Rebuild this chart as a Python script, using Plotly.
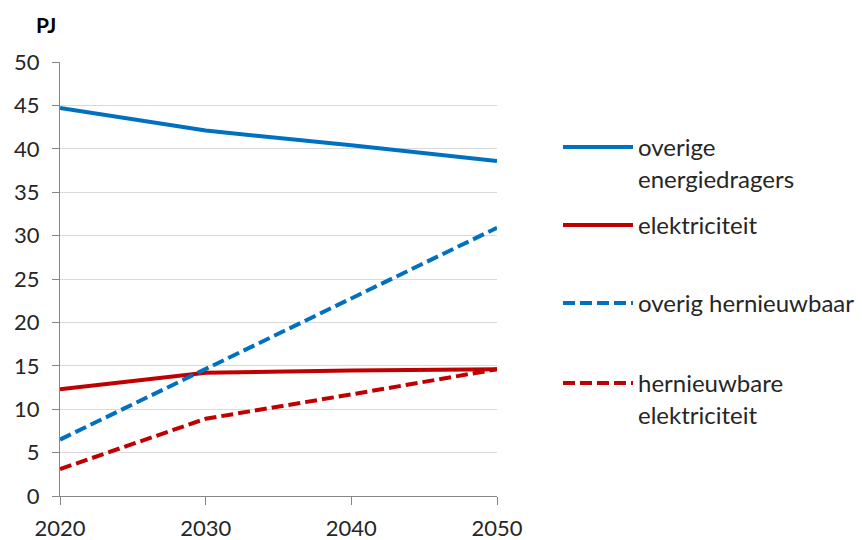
import plotly.graph_objects as go

years = [2020, 2030, 2040, 2050]
overige_energiedragers = [44.7, 42.1, 40.4, 38.6]
elektriciteit = [12.3, 14.2, 14.45, 14.6]
overig_hernieuwbaar = [6.5, 14.6, 22.7, 30.9]
hernieuwbare_elektriciteit = [3.1, 8.9, 11.7, 14.6]

names = ["overige<br>energiedragers", "elektriciteit", "overig hernieuwbaar", "hernieuwbare<br>elektriciteit"]
series = [overige_energiedragers, elektriciteit, overig_hernieuwbaar, hernieuwbare_elektriciteit]
colors = ["#0070C0", "#C00000", "#0070C0", "#C00000"]
dashes = ["solid", "solid", "12px,5px", "12px,5px"]
legend_ids = ["legend", "legend2", "legend3", "legend4"]
legend_y = [147, 225, 303, 383]

FONT = "Lato"
TXT = "#262626"

fig = go.Figure()
for name, vals, col, dash, lid in zip(names, series, colors, dashes, legend_ids):
    fig.add_trace(go.Scatter(x=years, y=vals, mode="lines", name=name,
                             line=dict(color=col, width=4, dash=dash),
                             legend=lid, hoverinfo="skip"))

W, H = 862, 540
L, R, T, B = 60, 365, 62, 44
pw = W - L - R
ph = H - T - B
legs = {}
for lid, yc in zip(legend_ids, legend_y):
    legs[lid] = dict(x=(558 - L) / pw, xanchor="left",
                     y=(H - B - (yc - 22)) / ph, yanchor="top",
                     valign="top", bgcolor="rgba(0,0,0,0)",
                     font=dict(family=FONT, size=24, color=TXT),
                     itemwidth=70, tracegroupgap=0)
fig.update_layout(**legs)

fig.update_layout(
    width=W, height=H,
    margin=dict(l=L, r=R, t=T, b=B, autoexpand=False),
    paper_bgcolor="white", plot_bgcolor="white",
    font=dict(family=FONT, size=22, color=TXT),
    showlegend=True,
    xaxis=dict(range=[2020, 2050], tickvals=[2020, 2030, 2040, 2050],
               showgrid=False, showline=True, linecolor="#868686", linewidth=1,
               ticks="outside", ticklen=8, tickcolor="#868686",
               ticklabelstandoff=5, zeroline=False, automargin=False),
    yaxis=dict(range=[0, 50], tickvals=list(range(0, 51, 5)),
               showgrid=True, gridcolor="#D9D9D9", gridwidth=1,
               showline=True, linecolor="#868686", linewidth=1,
               ticks="outside", ticklen=7, tickcolor="#868686",
               ticklabelstandoff=8, zeroline=False, automargin=False),
    annotations=[dict(text="<b>PJ</b>", xref="paper", yref="paper",
                      x=(46 - L) / pw, y=(H - B - 25) / ph,
                      xanchor="center", yanchor="middle", showarrow=False,
                      font=dict(family=FONT, size=21, color="black"))],
)

fig.write_html("out.html", config={"displayModeBar": False},
               post_script="document.body.style.margin='0px';document.body.style.overflow='hidden';")
